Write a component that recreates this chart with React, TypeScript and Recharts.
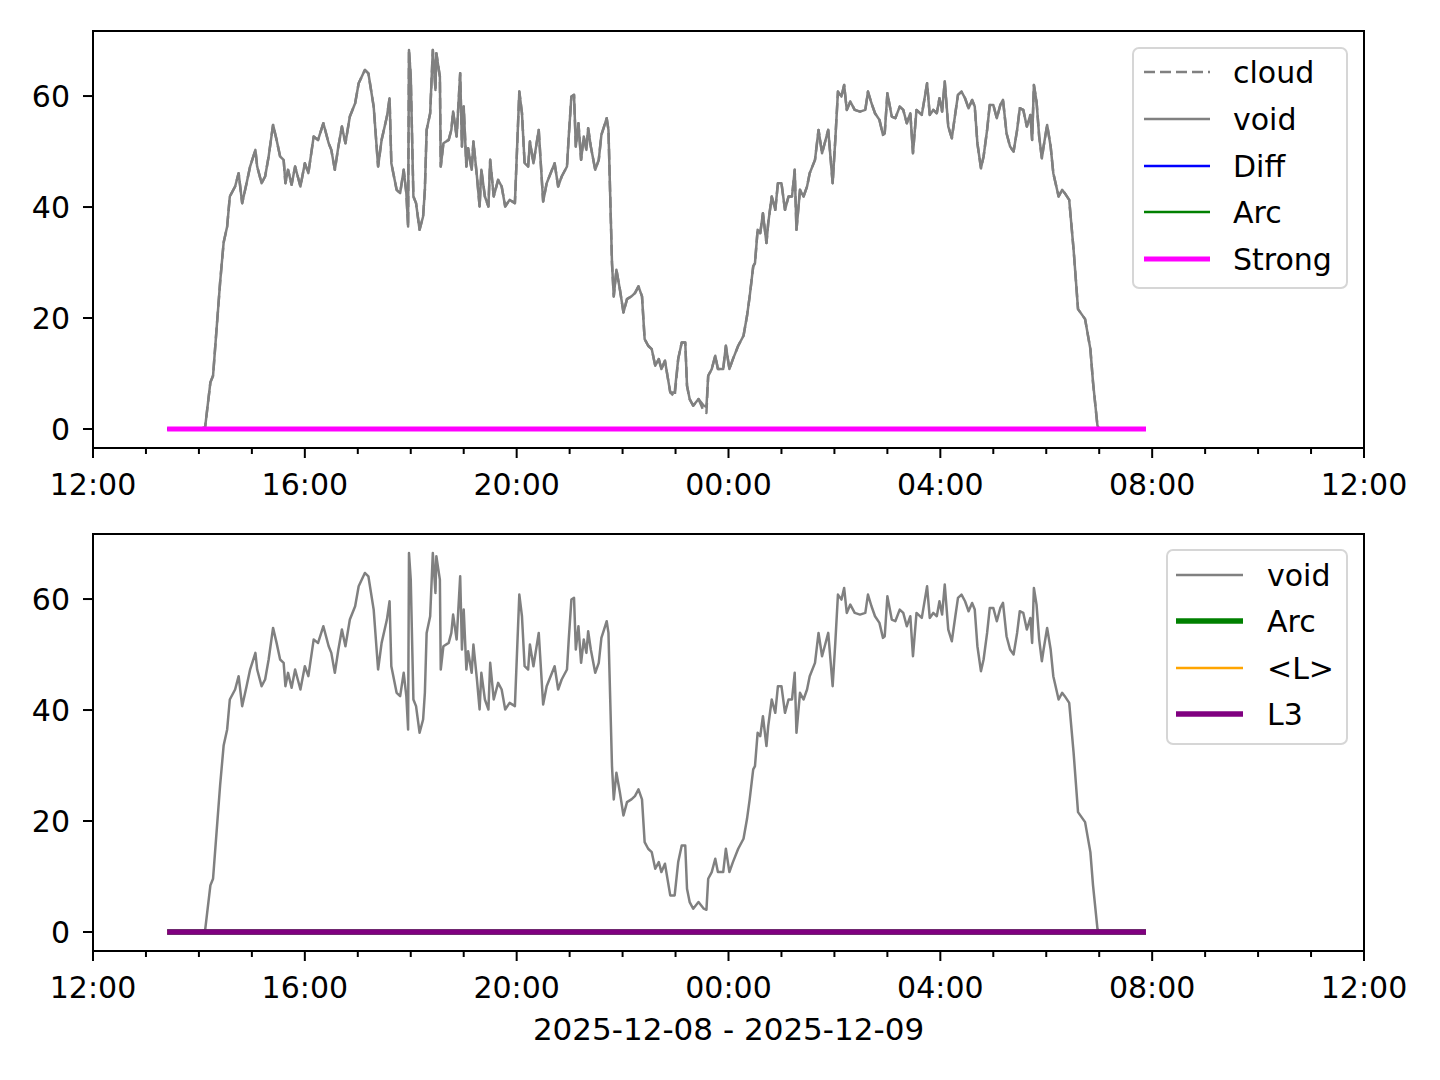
import React from 'react';
import { LineChart, Line, XAxis, YAxis, ReferenceArea, Legend } from 'recharts';

const FONT = '"DejaVu Sans", sans-serif';

// minutes since 12:00 on 2025-12-08
const voidTimes = [
  84, 120, 127, 133, 136, 140, 144, 148, 152, 155,
  161, 165, 169, 174, 178, 184, 186, 191, 195, 199,
  204, 208, 212, 216, 218, 221, 225, 229, 235, 240,
  244, 250, 255, 261, 267, 270, 274, 278, 282, 286,
  291, 297, 301, 308, 312, 318, 323, 327, 333, 336,
  338, 344, 348, 352, 355, 357, 358, 360, 363, 366,
  370, 374, 376, 378, 382, 385, 388, 389, 393, 394,
  397, 403, 406, 408, 412, 416, 418, 420, 423, 425,
  429, 431, 435, 438, 440, 444, 448, 450, 454, 459,
  463, 467, 472, 478, 483, 486, 489, 493, 495, 499,
  505, 510, 514, 523, 527, 531, 537, 539, 542, 545,
  547, 550, 553, 556, 559, 561, 564, 569, 573, 576,
  579, 582, 584, 586, 588, 590, 593, 597, 601, 605,
  610, 614, 618, 622, 625, 629, 633, 637, 641, 644,
  648, 654, 659, 663, 667, 671, 673, 676, 680, 686,
  692, 695, 697, 701, 705, 708, 714, 717, 721, 725,
  731, 737, 741, 744, 748, 750, 753, 756, 759, 763,
  765, 769, 773, 776, 780, 784, 788, 792, 795, 797,
  801, 805, 809, 812, 818, 822, 826, 829, 833, 838,
  841, 844, 848, 851, 854, 858, 863, 869, 875, 878,
  882, 886, 891, 895, 897, 900, 905, 909, 914, 918,
  922, 926, 929, 933, 939, 945, 948, 952, 956, 959,
  962, 965, 969, 973, 977, 980, 984, 988, 992, 996,
  999, 1002, 1006, 1009, 1013, 1016, 1020, 1024, 1028, 1031,
  1035, 1039, 1043, 1047, 1050, 1054, 1058, 1062, 1064, 1066,
  1069, 1072, 1075, 1077, 1081, 1085, 1088, 1094, 1098, 1101,
  1106, 1111, 1116, 1120, 1124, 1130, 1133, 1138, 1140, 1193,
];

const voidValues = [
  0, 0, 0.3, 8.4, 9.6, 18, 26.4, 33.6, 36.5, 41.9,
  43.7, 46.1, 40.7, 44.3, 47.3, 50.3, 47.3, 44.3, 45.5, 49.1,
  54.8, 52.1, 49.1, 48.5, 44.3, 46.7, 44, 47.3, 43.7, 47.9,
  46.1, 52.7, 52.1, 55.1, 51.5, 50.3, 46.7, 50.9, 54.5, 51.5,
  56.3, 58.7, 62.3, 64.7, 64.1, 58.1, 47.3, 52.1, 56.3, 59.6,
  47.9, 43.1, 42.5, 46.7, 42.5, 36.5, 68.3, 63.5, 41.9, 40.7,
  35.9, 38.3, 43.1, 53.9, 56.9, 68.3, 61.1, 67.7, 63.5, 47.3,
  51.5, 52.1, 53.9, 57.2, 52.7, 64.1, 50.9, 58.1, 47.3, 50.6,
  46.7, 51.8, 45.5, 40.1, 46.7, 41.9, 40.1, 48.5, 41.9, 44.9,
  43.7, 40.1, 41.3, 40.7, 60.8, 56.9, 47.9, 47.3, 51.8, 47.9,
  53.9, 41, 44.3, 47.9, 43.7, 45.5, 47.3, 52.7, 59.9, 60.2,
  50.9, 55.1, 48.5, 52.7, 50.3, 54.2, 50.9, 46.7, 48.5, 53,
  54.5, 56, 53.9, 41.9, 29.9, 23.9, 28.7, 25.1, 21, 23.4,
  23.9, 24.5, 25.7, 23.9, 16.2, 15, 14.4, 11.4, 12.6, 10.8,
  12.3, 6.6, 6.6, 12.6, 15.6, 15.6, 7.8, 5.4, 4.2, 5.4,
  4.2, 4.0, 9.6, 10.8, 13.2, 10.8, 10.8, 15, 10.8, 12.6,
  15, 16.8, 20.4, 23.9, 29.3, 29.9, 35.9, 35.3, 38.9, 33.5,
  37.1, 41.9, 39.5, 44.3, 44.3, 39.5, 41.9, 41.9, 46.7, 35.9,
  43.1, 41.9, 43.7, 46.1, 48.5, 53.9, 49.7, 51.5, 53.9, 44.3,
  52.1, 60.8, 59.9, 62, 57.5, 59, 57.5, 57.2, 57.5, 60.8,
  58.7, 56.9, 55.7, 53, 53.3, 60.5, 56.3, 56, 58.1, 57.5,
  55.1, 56.9, 49.7, 57.5, 56.6, 62.3, 56.6, 57.5, 56.9, 59.6,
  57.2, 62.6, 54.5, 52.4, 56.9, 60.2, 60.8, 59.6, 57.8, 59.3,
  58.1, 51.5, 47, 49.1, 53.9, 58.4, 58.4, 56, 58.4, 59.3,
  53.3, 50.9, 50, 53.9, 57.8, 57.5, 54.5, 56.6, 52.1, 62,
  59, 52.7, 48.8, 50.9, 54.8, 50.9, 46.1, 41.9, 43.1, 42.5,
  41.3, 32.3, 21.6, 20.7, 19.8, 14.4, 8.4, 0.6, 0, 0,
];

// where the cloud estimate differs from void (it follows void elsewhere)
const cloudTimes = [659, 692, 695];
const cloudValues = [5.8, 3.2, 2.9];

// flat series (all zero over the recorded span)
const flatTimes = [84, 1193];
const strongValues = [0, 0];
const diffValues = [0, 0];
const arcValues = [0, 0];
const meanLValues = [0, 0];
const l3Values = [0, 0];

const xTicks = [0, 60, 120, 180, 240, 300, 360, 420, 480, 540, 600, 660, 720, 780, 840, 900, 960, 1020, 1080, 1140, 1200, 1260, 1320, 1380, 1440];
const yTicks = [0, 20, 40, 60];
const Y_DOMAIN: [number, number] = [-3.42, 71.72];

const toRows = (times: number[], values: number[]) => times.map((t, i) => ({ t, v: values[i] }));

const voidData = toRows(voidTimes, voidValues);
const cloudData = voidData.map((d) => {
  const k = cloudTimes.indexOf(d.t);
  return k >= 0 ? { t: d.t, v: cloudValues[k] } : d;
});

const fmtTime = (m: number) => {
  const h = (12 + Math.floor(m / 60)) % 24;
  return `${String(h).padStart(2, '0')}:00`;
};

const XTick = (props: any) => {
  const { x, y, payload } = props;
  const major = payload.value % 240 === 0;
  return (
    <g>
      <line x1={x} x2={x} y1={y} y2={y + (major ? 10 : 6)} stroke="#000" strokeWidth={2} />
      {major && (
        <text x={x} y={y + 47} textAnchor="middle" fontSize={30} fontFamily={FONT} fill="#000">
          {fmtTime(payload.value)}
        </text>
      )}
    </g>
  );
};

const YTick = (props: any) => {
  const { x, y, payload } = props;
  return (
    <g>
      <line x1={x - 10} x2={x} y1={y} y2={y} stroke="#000" strokeWidth={2} />
      <text x={x - 23} y={y + 11} textAnchor="end" fontSize={30} fontFamily={FONT} fill="#000">
        {payload.value}
      </text>
    </g>
  );
};

type Series = { name: string; data: { t: number; v: number }[]; color: string; width: number; dash?: string };

const LegendBox = ({ items, width, height, lineX1, lineX2, textX, rowY }: any) => (
  <svg width={width} height={height} style={{ display: 'block' }}>
    <rect x={1} y={1} width={width - 2} height={height - 2} rx={6} ry={6} fill="#fff" fillOpacity={0.8} stroke="#d6d6d6" strokeWidth={2} />
    {items.map((s: Series, i: number) => (
      <g key={s.name}>
        <line x1={lineX1} x2={lineX2} y1={rowY[i]} y2={rowY[i]} stroke={s.color} strokeWidth={s.width} strokeDasharray={s.dash} />
        <text x={textX} y={rowY[i] + 11} fontSize={30} fontFamily={FONT} fill="#000">
          {s.name}
        </text>
      </g>
    ))}
  </svg>
);

const Panel = ({ series, legend }: { series: Series[]; legend: any }) => (
  <LineChart width={1440} height={540} margin={{ top: 31, right: 76, bottom: 32, left: 33 }}>
    <XAxis
      type="number"
      dataKey="t"
      domain={[0, 1440]}
      allowDataOverflow
      ticks={xTicks}
      interval={0}
      tickSize={0}
      tickMargin={0}
      tickLine={false}
      axisLine={false}
      tick={<XTick />}
      height={60}
    />
    <YAxis
      type="number"
      domain={Y_DOMAIN}
      allowDataOverflow
      ticks={yTicks}
      interval={0}
      tickSize={0}
      tickMargin={0}
      tickLine={false}
      axisLine={false}
      tick={<YTick />}
      width={60}
    />
    {series.map((s) => (
      <Line
        key={s.name}
        data={s.data}
        dataKey="v"
        name={s.name}
        type="linear"
        stroke={s.color}
        strokeWidth={s.width}
        strokeDasharray={s.dash}
        strokeLinejoin="round"
        dot={false}
        activeDot={false}
        isAnimationActive={false}
      />
    ))}
    <ReferenceArea
      x1={0}
      x2={1440}
      y1={Y_DOMAIN[0]}
      y2={Y_DOMAIN[1]}
      fill="none"
      fillOpacity={0}
      stroke="#000"
      strokeWidth={2}
      ifOverflow="visible"
    />
    <Legend
      layout="vertical"
      align="center"
      verticalAlign="middle"
      wrapperStyle={{ left: legend.left, top: legend.top, width: legend.width, height: legend.height }}
      content={() => <LegendBox {...legend} />}
    />
  </LineChart>
);

const topSeries: Series[] = [
  { name: 'cloud', data: cloudData, color: '#808080', width: 2.5, dash: '11 5' },
  { name: 'void', data: voidData, color: '#808080', width: 2.5 },
  { name: 'Diff', data: toRows(flatTimes, diffValues), color: '#0000ff', width: 2.5 },
  { name: 'Arc', data: toRows(flatTimes, arcValues), color: '#008000', width: 2.5 },
  { name: 'Strong', data: toRows(flatTimes, strongValues), color: '#ff00ff', width: 5 },
];

const bottomSeries: Series[] = [
  { name: 'void', data: voidData, color: '#808080', width: 2.5 },
  { name: 'Arc', data: toRows(flatTimes, arcValues), color: '#008000', width: 5.5 },
  { name: '<L>', data: toRows(flatTimes, meanLValues), color: '#ffa500', width: 2.5 },
  { name: 'L3', data: toRows(flatTimes, l3Values), color: '#800080', width: 5.5 },
];

export default function App() {
  return (
    <div style={{ position: 'absolute', left: 0, top: 0, width: 1440, height: 1080, background: '#fff', fontFamily: FONT }}>
      <div style={{ position: 'absolute', left: 0, top: 0 }}>
        <Panel
          series={topSeries}
          legend={{ items: topSeries, left: 1132, top: 47, width: 216, height: 242, lineX1: 12, lineX2: 78, textX: 101, rowY: [25, 72, 119, 165, 212] }}
        />
      </div>
      <div style={{ position: 'absolute', left: 0, top: 503 }}>
        <Panel
          series={bottomSeries}
          legend={{ items: bottomSeries, left: 1166, top: 46, width: 182, height: 196, lineX1: 10, lineX2: 77, textX: 101, rowY: [26, 72, 119, 165] }}
        />
      </div>
      <div style={{ position: 'absolute', left: 93, top: 1014, width: 1271, textAlign: 'center', fontSize: 31, lineHeight: '31px', color: '#000' }}>
        2025-12-08 - 2025-12-09
      </div>
    </div>
  );
}
